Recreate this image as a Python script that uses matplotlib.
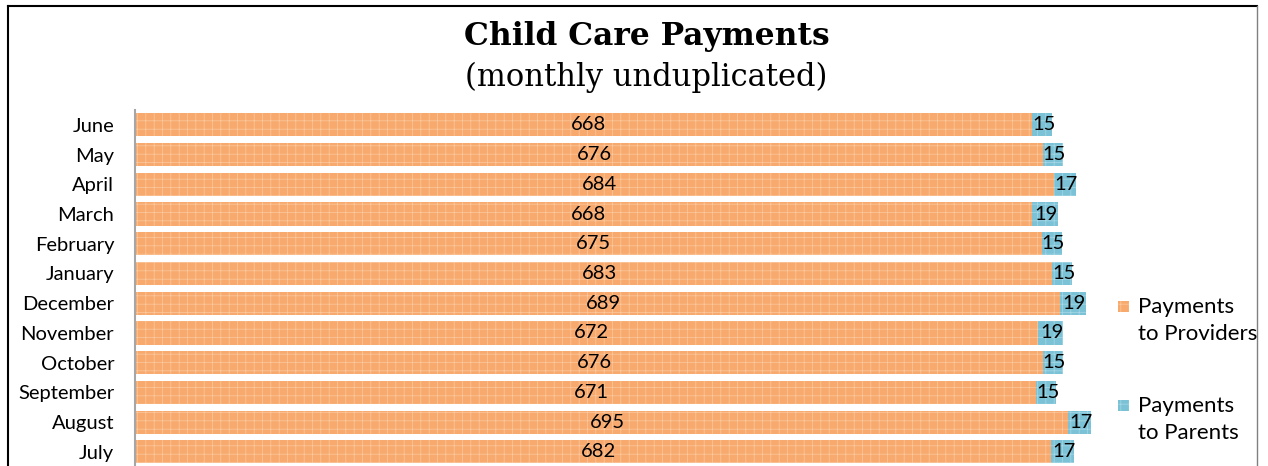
import matplotlib
matplotlib.use("Agg")
import matplotlib.pyplot as plt
from matplotlib.lines import Line2D
from matplotlib.patches import Rectangle
import numpy as np

months = ["July", "August", "September", "October", "November", "December",
          "January", "February", "March", "April", "May", "June"]
providers = [682, 695, 671, 676, 672, 689, 683, 675, 668, 684, 676, 668]
parents = [17, 17, 15, 15, 19, 19, 15, 15, 19, 17, 15, 15]
series_names = ["Payments\nto Providers", "Payments\nto Parents"]

W, H = 1268, 466
fig = plt.figure(figsize=(W / 100, H / 100), dpi=100)
plt.rcParams['hatch.linewidth'] = 0.5

ax_left, ax_right = 135 / W, 1102 / W
ax_top = 1 - 110 / H
ax_bottom = -0.0015
ax = fig.add_axes([ax_left, ax_bottom, ax_right - ax_left, ax_top - ax_bottom])

y = np.arange(len(months))
orange = '#F8AA6E'
blue = '#7CC2D7'
o_edge = '#FBC99F'
b_edge = '#A8D8E6'
ax.barh(y, providers, height=0.78, color=orange, edgecolor=o_edge,
        hatch='++', linewidth=0)
ax.barh(y, parents, left=providers, height=0.78, color=blue,
        edgecolor=b_edge, hatch='++', linewidth=0)

for i, (p, q) in enumerate(zip(providers, parents)):
    ax.text(p / 2 + 4, i, str(p), ha='center', va='center', fontsize=14.5,
            family='Lato', color='black')
    ax.text(p + q / 2 + 1, i, str(q), ha='center', va='center', fontsize=14.5,
            family='Lato', color='black')

ax.set_xlim(0, 720)
ax.set_ylim(-0.5, 11.5)
ax.set_yticks(y)
ax.set_yticklabels(months, fontsize=14.5, family='Lato')
ax.tick_params(axis='y', length=0, pad=15)
ax.set_xticks([])
for s in ['top', 'right', 'bottom']:
    ax.spines[s].set_visible(False)
ax.spines['left'].set_color('#A6A6A6')
ax.spines['left'].set_linewidth(1.5)

fig.text(647 / W, 1 - 37 / H, "Child Care Payments", ha='center', va='center',
         fontsize=22.5, fontweight='bold', family='DejaVu Serif')
fig.text(646 / W, 1 - 77 / H, "(monthly unduplicated)", ha='center', va='center',
         fontsize=22, family='DejaVu Serif')

# legend drawn manually
for (ytop, col, ec, name) in [(301, orange, o_edge, series_names[0]),
                              (400, blue, b_edge, series_names[1])]:
    fig.add_artist(Rectangle((1118 / W, 1 - (ytop + 11) / H), 11 / W, 11 / H,
                             facecolor=col, edgecolor=ec, hatch='++', lw=0,
                             transform=fig.transFigure))
    fig.text(1138 / W, 1 - (ytop - 4) / H, name, ha='left', va='top',
             fontsize=16, family='Lato', linespacing=1.45)

# outer frame
fig.add_artist(Line2D([8 / W, 8 / W], [0, 1 - 6 / H], color='black', lw=1.5,
                      transform=fig.transFigure))
fig.add_artist(Line2D([8 / W, 1257 / W], [1 - 6 / H, 1 - 6 / H], color='black',
                      lw=1.5, transform=fig.transFigure))
fig.add_artist(Line2D([1257 / W, 1257 / W], [0, 1 - 6 / H], color='#808080',
                      lw=1.0, transform=fig.transFigure))

fig.savefig("out.png", dpi=100)
